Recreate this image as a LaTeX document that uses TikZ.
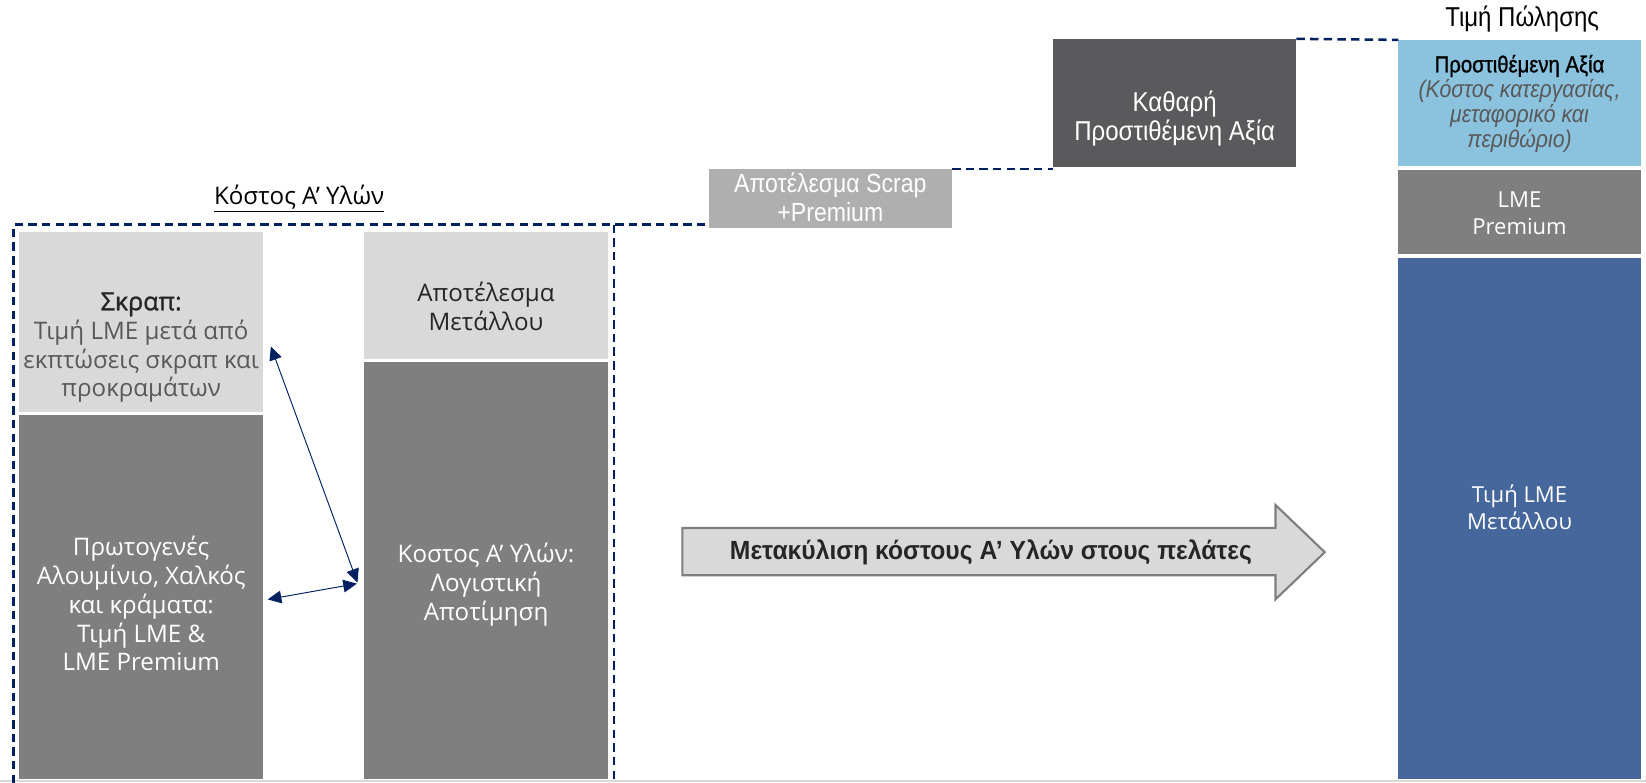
\documentclass[tikz,border=0pt]{standalone}
\usepackage{fontspec}
\setmainfont{Open Sans}
\newfontfamily\semib[FakeBold=1.2]{Open Sans}
\newfontfamily\narrow[FakeStretch=0.88]{Liberation Sans}
\newfontfamily\narrowsb[FakeStretch=0.88,FakeBold=1.0]{Liberation Sans}
\newfontfamily\narrowb[FakeStretch=0.94]{Liberation Sans}
\usetikzlibrary{arrows.meta}
\definecolor{navy}{HTML}{002060}
\definecolor{lightg}{HTML}{D9D9D9}
\definecolor{midg}{HTML}{7F7F7F}
\definecolor{scrapg}{HTML}{AFAFAF}
\definecolor{darkg}{HTML}{5A5A5C}
\definecolor{lblue}{HTML}{8BC3DF}
\definecolor{dblue}{HTML}{45679C}
\definecolor{txtdark}{HTML}{262626}
\definecolor{txtgray}{HTML}{595959}
\begin{document}
\begin{tikzpicture}[x=1pt,y=-1pt,
  boxst/.style={draw=none,inner sep=0pt,outer sep=0pt},
  lbl/.style={align=center,inner sep=0pt,font=\fontsize{23}{27.5}\selectfont},
  rlbl/.style={align=center,inner sep=0pt,font=\fontsize{21}{26}\selectfont},
  nlbl/.style={align=center,inner sep=0pt,font=\narrow\fontsize{25}{28}\selectfont},
  dashnavy/.style={draw=navy,line width=2.4pt,dash pattern=on 8pt off 5pt},
  thinarrow/.style={draw=navy,line width=0.9pt,{Triangle[length=13pt,width=12pt]}-{Triangle[length=13pt,width=12pt]}}]
\useasboundingbox (0,0) rectangle (1568,745);
\fill[white] (0,0) rectangle (1568,745);
% bottom rule
\draw[lightg,line width=2pt] (0,744) -- (1568,744);
% boxes
\node[boxst,fill=lightg,minimum width=233pt,minimum height=171pt] (scrap) at (134.5,306.5) {};
\node[boxst,fill=midg,minimum width=233pt,minimum height=347pt] (prim) at (134.5,568.5) {};
\node[boxst,fill=lightg,minimum width=232pt,minimum height=121pt] (metres) at (463,281.5) {};
\node[boxst,fill=midg,minimum width=232pt,minimum height=397pt] (cost) at (463,543.5) {};
\node[boxst,fill=scrapg,minimum width=232pt,minimum height=56pt] (scrapres) at (791,189) {};
\node[boxst,fill=darkg,minimum width=232pt,minimum height=122pt] (net) at (1119,98) {};
\node[boxst,fill=lblue,minimum width=231pt,minimum height=120pt] (added) at (1447.5,98) {};
\node[boxst,fill=midg,minimum width=231pt,minimum height=80pt] (lmeprem) at (1447.5,202) {};
\node[boxst,fill=dblue,minimum width=231pt,minimum height=496pt] (lme) at (1447.5,494) {};
% texts
\node[lbl] (title) at (285,189) {\underline{Κόστος Α’ Υλών}};
\node[lbl] (scraptxt) at (134.5,331) {{\color{txtdark}\semib\fontsize{24}{27.5}\selectfont Σκραπ:}\\{\color{txtgray}Τιμή LME μετά από}\\{\color{txtgray}εκπτώσεις σκραπ και}\\{\color{txtgray}προκραμάτων}};
\node[lbl,text=white] (primtxt) at (134.5,575) {Πρωτογενές\\Αλουμίνιο, Χαλκός\\και κράματα:\\Τιμή LME \&\\LME Premium};
\node[lbl,text=txtdark] (metrestxt) at (463,292) {Αποτέλεσμα\\Μετάλλου};
\node[lbl,text=white] (costtxt) at (463,557) {Κοστος Α’ Υλών:\\Λογιστική\\Αποτίμηση};
\node[nlbl,text=white] (scraprestxt) at (791,188) {Αποτέλεσμα Scrap\\+Premium};
\node[nlbl,text=white,font=\narrow\fontsize{26}{28}\selectfont] (nettxt) at (1119,113) {Καθαρή\\Προστιθέμενη Αξία};
\node[nlbl,text=black,font=\narrowsb\fontsize{22}{24}\selectfont] (addedtxt) at (1447.5,99) {Προστιθέμενη Αξία\\{\narrow\itshape\color{txtgray}\fontsize{23}{24}\selectfont(Κόστος κατεργασίας,}\\{\narrow\itshape\color{txtgray}\fontsize{23}{24}\selectfont μεταφορικό και}\\{\narrow\itshape\color{txtgray}\fontsize{23}{24}\selectfont περιθώριο)}};
\node[rlbl,text=white] (lmepremtxt) at (1447.5,203) {LME\\Premium};
\node[rlbl,text=white] (lmetxt) at (1447.5,483) {Τιμή LME\\Μετάλλου};
\node[nlbl,text=black,font=\narrow\fontsize{26}{28}\selectfont] (saletxt) at (1450,18) {Τιμή Πώλησης};
% frame
\coordinate (fbl) at (13,746);
\coordinate (ftl) at (13,214);
\coordinate (ftr) at (585,214);
\coordinate (fbr) at (585,746);
\draw[dashnavy] (fbl) -- (ftl) -- (ftl -| scrapres.west);
\draw[dashnavy] (ftr) -- (fbr);
\draw[dashnavy] (scrapres.north east) -- (scrapres.north east -| net.west);
\draw[dashnavy] (net.north east) -- (added.north west);
% thin arrows
\coordinate (a1s) at (258,330);
\coordinate (a1e) at (340.5,555);
\coordinate (a2s) at (255,571);
\coordinate (a2e) at (340,556);
\draw[thinarrow] (a1s) -- (a1e);
\draw[thinarrow] (a2s) -- (a2e);
% big arrow
\draw[draw=midg,fill=lightg,line width=2pt] (650,503) -- (1215,503) -- (1215,481) -- (1262,526) -- (1215,571) -- (1215,548) -- (650,548) -- cycle;
\node[inner sep=0pt,font=\narrowb\bfseries\fontsize{25}{28}\selectfont,text=txtdark] (passtxt) at (944,526) {Μετακύλιση κόστους Α’ Υλών στους πελάτες};
\end{tikzpicture}
\end{document}
